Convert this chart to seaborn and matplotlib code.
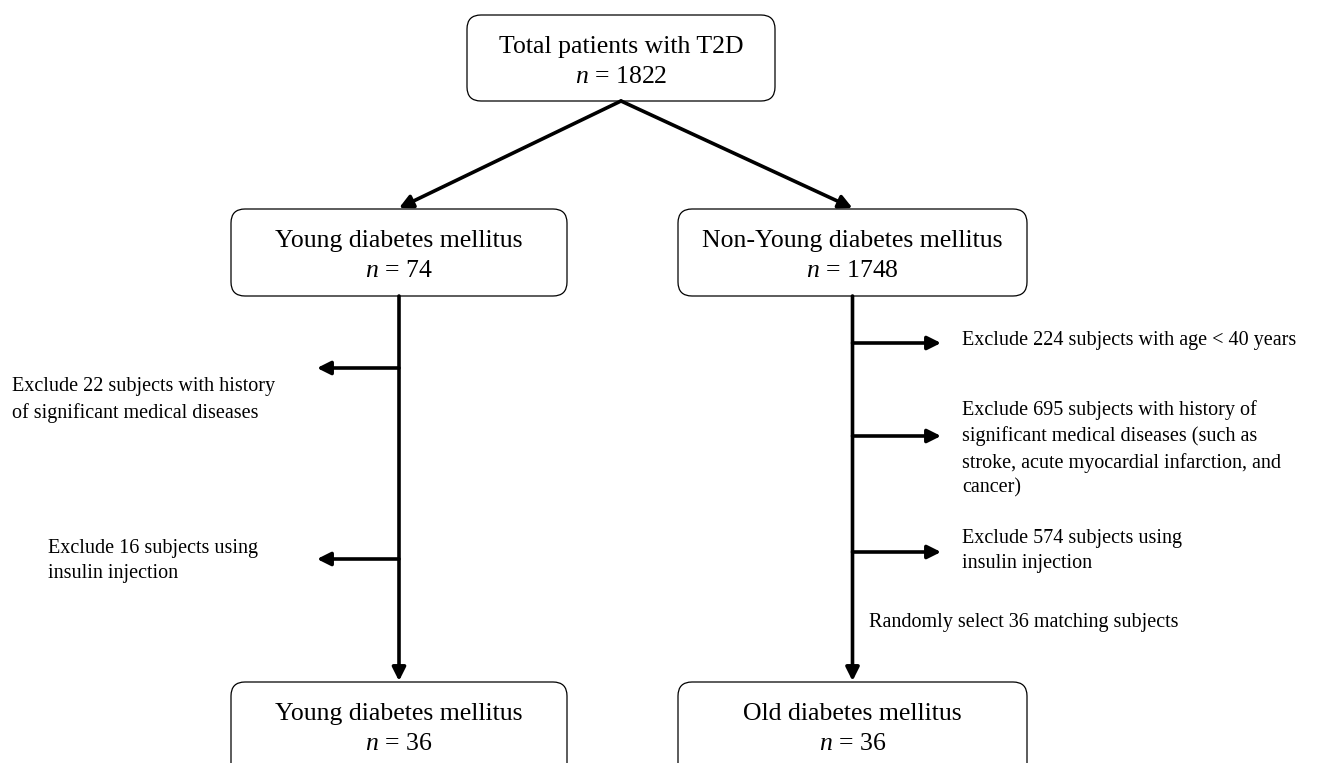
# -----------------------------
# Flowchart: T2D patient selection
# -----------------------------
import matplotlib
matplotlib.use("Agg")
import matplotlib.pyplot as plt
import seaborn as sns
from matplotlib.patches import FancyBboxPatch

# ---------------------------------------------------------
# Data
# ---------------------------------------------------------
box_titles = ["Total patients with T2D", "Young diabetes mellitus", "Non-Young diabetes mellitus",
              "Young diabetes mellitus", "Old diabetes mellitus"]
box_counts = [1822, 74, 1748, 36, 36]

young_exclusions = [
    "Exclude 22 subjects with history\nof significant medical diseases",
    "Exclude 16 subjects using\ninsulin injection",
]
old_exclusions = [
    "Exclude 224 subjects with age < 40 years",
    "Exclude 695 subjects with history of\nsignificant medical diseases (such as\nstroke, acute myocardial infarction, and\ncancer)",
    "Exclude 574 subjects using\ninsulin injection",
]
selection_note = "Randomly select 36 matching subjects"

# ---------------------------------------------------------
# Layout (pixel coordinates, y downward)
# ---------------------------------------------------------
box_geom = [(467, 15, 308, 86), (231, 209, 336, 87), (678, 209, 349, 87),
            (231, 682, 336, 100), (678, 682, 349, 100)]
young_branch_y = [368, 559]
young_text_pos = [(12, 400), (48, 561)]
old_branch_y = [343, 436, 552]
old_text_pos = [(962, 340), (962, 449), (962, 551)]

sns.set_theme(style="white")
plt.rcParams["font.family"] = ["Liberation Serif", "DejaVu Serif"]
plt.rcParams["mathtext.fontset"] = "custom"
plt.rcParams["mathtext.it"] = "Liberation Serif:italic"
plt.rcParams["mathtext.rm"] = "Liberation Serif"
plt.rcParams["text.color"] = "black"

fig = plt.figure(figsize=(13.28, 7.63), dpi=100)
ax = fig.add_axes([0, 0, 1, 1])
ax.set_xlim(0, 1328)
ax.set_ylim(763, 0)
ax.axis("off")

# boxes
for (x, y, w, h), title, n in zip(box_geom, box_titles, box_counts):
    ax.add_patch(FancyBboxPatch((x, y), w, h, boxstyle="round,pad=0,rounding_size=14",
                                fc="white", ec="black", lw=0.9))
    cx = x + w / 2
    ax.text(cx, y + 32, title, ha="center", va="center", fontsize=18.5)
    ax.text(cx, y + 62, f"$n$ = {n}", ha="center", va="center", fontsize=18.5)

arrow = dict(arrowstyle="-|>", lw=2.6, color="black", mutation_scale=20,
             shrinkA=0, shrinkB=0)

# split from top box
top_x = box_geom[0][0] + box_geom[0][2] / 2
top_y = box_geom[0][1] + box_geom[0][3]
left_x = box_geom[1][0] + box_geom[1][2] / 2
right_x = box_geom[2][0] + box_geom[2][2] / 2
for cx in [left_x, right_x]:
    ax.annotate("", xy=(cx, box_geom[1][1] - 1), xytext=(top_x, top_y), arrowprops=arrow)

# vertical trunks
for cx in [left_x, right_x]:
    ax.annotate("", xy=(cx, box_geom[3][1] - 1), xytext=(cx, box_geom[1][1] + box_geom[1][3]),
                arrowprops=arrow)

# young exclusions (arrows to the left)
for yb, (tx, ty), txt in zip(young_branch_y, young_text_pos, young_exclusions):
    ax.annotate("", xy=(317, yb), xytext=(left_x, yb), arrowprops=arrow)
    ax.text(tx, ty, txt, ha="left", va="center", fontsize=14.5, linespacing=1.42)

# old exclusions (arrows to the right)
for yb, (tx, ty), txt in zip(old_branch_y, old_text_pos, old_exclusions):
    ax.annotate("", xy=(941, yb), xytext=(right_x, yb), arrowprops=arrow)
    ax.text(tx, ty, txt, ha="left", va="center", fontsize=14.5, linespacing=1.42)

ax.text(869, 622, selection_note, ha="left", va="center", fontsize=14.5)

plt.savefig("out.png", dpi=100)
